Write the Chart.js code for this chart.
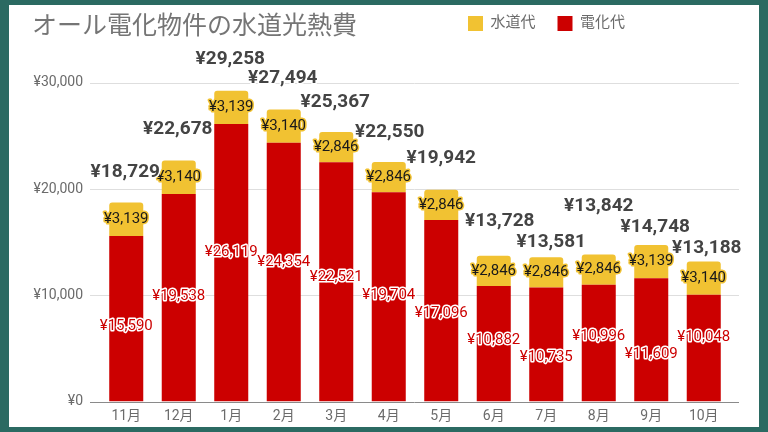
<!DOCTYPE html>
<html lang="ja">
<head>
<meta charset="utf-8">
<script src="https://cdn.jsdelivr.net/npm/chart.js@4.4.1/dist/chart.umd.min.js"></script>
<style>
    html, body { margin: 0; padding: 0; }
    body { width: 768px; height: 432px; background: #2b6a62; overflow: hidden; position: relative; }
    .panel { position: absolute; left: 9px; top: 5px; width: 750px; height: 422px; background: #fff; }
    .panel h1 {
        position: absolute; left: 23px; top: 0; margin: 0; z-index: 1;
        height: 30px; line-height: 30px;
        font: 400 25px "Noto Sans CJK JP", sans-serif; color: #757575;
    }
    canvas { position: absolute; left: 0; top: 0; }
</style>
</head>
<body>
<div class="panel">
    <h1>オール電化物件の水道光熱費</h1>
    <canvas id="costs" width="750" height="422"></canvas>
</div>
<script>
const months = ['11月', '12月', '1月', '2月', '3月', '4月', '5月', '6月', '7月', '8月', '9月', '10月'];
const water = [3139, 3140, 3139, 3140, 2846, 2846, 2846, 2846, 2846, 2846, 3139, 3140];
const electric = [15590, 19538, 26119, 24354, 22521, 19704, 17096, 10882, 10735, 10996, 11609, 10048];
const yTicks = [0, 10000, 20000, 30000];

const RED = '#cc0000';
const YELLOW = '#f1c232';
const FONT = 'Roboto, "Noto Sans CJK JP", sans-serif';

const yen = v => '¥' + v.toLocaleString('en-US');

// gridlines run a little past the bars, like the sheets chart
const gridLines = {
    id: 'gridLines',
    beforeDatasetsDraw(chart) {
        const {ctx, chartArea} = chart;
        const y = chart.scales.y;
        ctx.save();
        ctx.lineWidth = 1;
        ctx.strokeStyle = '#dedede';
        yTicks.filter(v => v > 0).forEach(v => {
            const py = Math.round(y.getPixelForValue(v)) + 0.5;
            ctx.beginPath();
            ctx.moveTo(chartArea.left - 10, py);
            ctx.lineTo(chartArea.right + 9, py);
            ctx.stroke();
        });
        ctx.restore();
    },
    afterDatasetsDraw(chart) {
        const {ctx, chartArea} = chart;
        const py = Math.round(chart.scales.y.getPixelForValue(0)) + 0.5;
        ctx.save();
        ctx.strokeStyle = '#8a8a8a';
        ctx.beginPath();
        ctx.moveTo(chartArea.left - 10, py);
        ctx.lineTo(chartArea.right + 9, py);
        ctx.stroke();
        ctx.restore();
    }
};

// value labels inside the bars and totals on top
const barLabels = {
    id: 'barLabels',
    afterDatasetsDraw(chart, args, opts) {
        const {ctx} = chart;
        const redBars = chart.getDatasetMeta(0).data;
        const yellowBars = chart.getDatasetMeta(1).data;

        const halo = (text, x, y, font, haloColor, color) => {
            ctx.font = font;
            ctx.strokeStyle = haloColor;
            ctx.fillStyle = color;
            ctx.strokeText(text, x, y);
            ctx.fillText(text, x, y);
        };

        ctx.save();
        ctx.textAlign = 'center';
        ctx.textBaseline = 'middle';
        ctx.lineJoin = 'round';
        ctx.lineWidth = 3;

        redBars.forEach((bar, i) => {
            const y = (bar.y + bar.base) / 2 + opts.electricShift[i];
            halo(yen(electric[i]), bar.x, y, '15px ' + FONT, '#fff', RED);
        });
        yellowBars.forEach((bar, i) => {
            halo(yen(water[i]), bar.x, (bar.y + bar.base) / 2, '15px ' + FONT, YELLOW, '#1a1a1a');
        });
        yellowBars.forEach((bar, i) => {
            const [dx, dy] = opts.totalShift[i];
            halo(yen(water[i] + electric[i]), bar.x + dx, bar.y + dy, 'bold 19px ' + FONT, '#fff', '#444');
        });
        ctx.restore();
    }
};

// put the legend on the title row, right of the title
const legendSpot = {
    id: 'legendSpot',
    afterLayout(chart) {
        const lg = chart.legend;
        const pad = lg.options.labels.padding;
        const dx = 459 - pad - lg.left;
        const dy = 11 - pad - lg.top;
        lg.left += dx;
        lg.right += dx;
        lg.top += dy;
        lg.bottom += dy;
    }
};

const ctx = document.getElementById('costs').getContext('2d');
const chart = new Chart(ctx, {
    type: 'bar',
    data: {
        labels: months,
        datasets: [{
            label: '電化代',
            data: electric,
            backgroundColor: RED,
            borderWidth: 0,
            categoryPercentage: 1,
            barPercentage: 0.648
        }, {
            label: '水道代',
            data: water,
            backgroundColor: YELLOW,
            borderWidth: 0,
            borderRadius: {topLeft: 3, topRight: 3, bottomLeft: 0, bottomRight: 0},
            borderSkipped: false,
            categoryPercentage: 1,
            barPercentage: 0.648
        }]
    },
    options: {
        responsive: false,
        animation: false,
        layout: {
            padding: {top: 0, right: 29, bottom: 0, left: 0}
        },
        scales: {
            x: {
                stacked: true,
                grid: {display: false, drawTicks: false},
                border: {display: false},
                ticks: {
                    color: '#6b6b6b',
                    padding: 6,
                    font: {size: 14, family: FONT}
                },
                afterFit(s) { s.height = 24; }
            },
            y: {
                stacked: true,
                min: 0,
                max: 32900,
                grid: {display: false, drawTicks: false},
                border: {display: false},
                afterBuildTicks(s) { s.ticks = yTicks.map(v => ({value: v})); },
                ticks: {
                    color: '#6b6b6b',
                    padding: 17,
                    font: {size: 14, family: FONT},
                    callback: v => yen(v)
                },
                afterFit(s) { s.width = 91; }
            }
        },
        plugins: {
            title: {display: false},
            tooltip: {enabled: false},
            legend: {
                position: 'top',
                align: 'start',
                reverse: true,
                labels: {
                    boxWidth: 15,
                    boxHeight: 15,
                    padding: 22,
                    color: '#6b6b6b',
                    font: {size: 15, family: FONT}
                }
            },
            barLabels: {
                electricShift: [7, -2, -11, -10, -5, -2, 2, -4, 13, -7, 14, -11],
                totalShift: [[-1, -30], [-1, -31], [-1, -31], [-1, -31], [-1, -30], [1, -30],
                             [0, -31], [6, -34], [5, -15], [0, -48], [4, -18], [3, -13]]
            }
        }
    },
    plugins: [gridLines, barLabels, legendSpot]
});
</script>
</body>
</html>
